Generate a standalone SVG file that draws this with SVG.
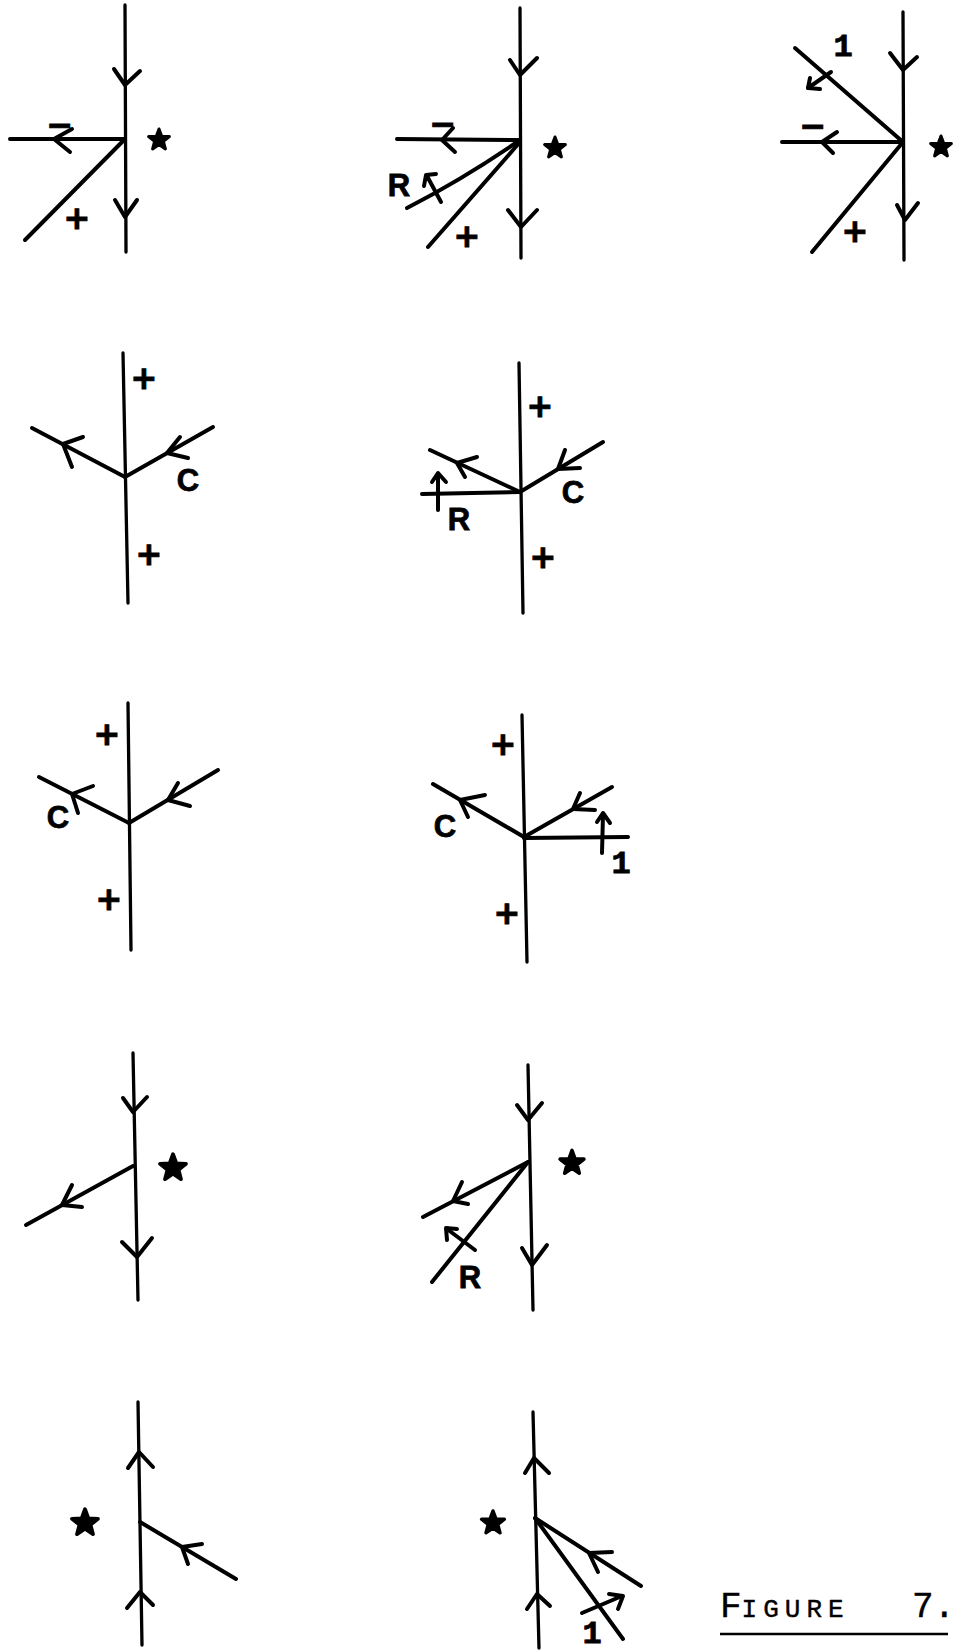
<svg xmlns="http://www.w3.org/2000/svg" xmlns:xlink="http://www.w3.org/1999/xlink" width="953" height="1651" viewBox="0 0 953 1651">
<style>
.ln{fill:none;stroke:#000;stroke-width:4;stroke-linecap:round;stroke-linejoin:round}
.vt{fill:none;stroke:#000;stroke-width:3.3;stroke-linecap:round}
.ah{fill:none;stroke:#000;stroke-width:4;stroke-linecap:round;stroke-linejoin:round}
.sg{font-family:"DejaVu Sans",sans-serif;font-weight:bold;font-size:32px;text-anchor:middle;fill:#000;stroke:#000;stroke-width:1}
.lb{font-family:"Liberation Sans",sans-serif;font-weight:bold;font-size:31px;text-anchor:middle;fill:#000;stroke:#000;stroke-width:0.8}
.one{font-family:"Liberation Mono",monospace;font-weight:bold;font-size:32px;text-anchor:middle;fill:#000;stroke:#000;stroke-width:0.8}
.st{fill:#000;stroke:#000;stroke-width:3;stroke-linejoin:round}
.cap{font-family:"Liberation Mono",monospace;fill:#000;stroke:#000;stroke-width:0.4}
</style>
<defs>
<polygon id="star" class="st" points="0,-11 2.7,-3.7 10.4,-3.4 4.4,1.4 6.4,8.9 0,4.6 -6.4,8.9 -4.4,1.4 -10.4,-3.4 -2.7,-3.7"/>
</defs>

<g id="d1">
<path class="vt" d="M125,5 L126,252"/>
<polyline class="ah" points="114,69 125,85 140,71"/>
<polyline class="ah" points="115,200 125,217 137,200"/>
<path class="ln" d="M10,139 L124,139"/>
<polyline class="ah" points="72,129 54,139 70,152"/>
<path class="ln" d="M123,141 L25,240"/>
<text class="sg" x="60" y="136">−</text>
<text class="sg" x="77" y="229">+</text>
<use xlink:href="#star" transform="translate(159,140)"/>
</g>

<g id="d2">
<path class="vt" d="M520,8 L521,258"/>
<polyline class="ah" points="510,60 520,75 537,58"/>
<polyline class="ah" points="508,210 521,227 537,210"/>
<path class="ln" d="M397,139 L520,140"/>
<polyline class="ah" points="453,128 442,140 455,152"/>
<path class="ln" d="M520,140 Q465,178 407,208"/>
<path class="ln" d="M441,202 L427,176"/>
<polyline class="ah" points="424,186 426,175 436,174"/>
<path class="ln" d="M520,142 L428,247"/>
<text class="sg" x="443" y="135">−</text>
<text class="lb" x="399" y="196" font-size="28">R</text>
<text class="sg" x="467" y="247">+</text>
<use xlink:href="#star" transform="translate(555,148)"/>
</g>

<g id="d3">
<path class="vt" d="M903,12 L904,260"/>
<polyline class="ah" points="890,53 903,70 917,57"/>
<polyline class="ah" points="897,205 905,220 918,203"/>
<path class="ln" d="M782,142 L903,142"/>
<polyline class="ah" points="837,132 822,142 833,153"/>
<path class="ln" d="M795,48 L903,142"/>
<path class="ln" d="M831,72 L808,88"/>
<polyline class="ah" points="810,78 808,88 820,89"/>
<path class="ln" d="M903,142 L812,252"/>
<text class="sg" x="813" y="137">−</text>
<text class="one" x="843" y="56">1</text>
<text class="sg" x="855" y="242">+</text>
<use xlink:href="#star" transform="translate(941,147)"/>
</g>

<g id="d4">
<path class="vt" d="M123,353 L128,603"/>
<path class="ln" d="M125,477 L32,428"/>
<polyline class="ah" points="83,437 63,444 72,467"/>
<path class="ln" d="M125,477 L213,427"/>
<polyline class="ah" points="180,437 167,453 188,458"/>
<text class="lb" x="188" y="491" font-size="36">C</text>
<text class="sg" x="144" y="389">+</text>
<text class="sg" x="149" y="565">+</text>
</g>

<g id="d5">
<path class="vt" d="M519,363 L523,613"/>
<path class="ln" d="M520,492 L430,450"/>
<polyline class="ah" points="477,457 457,463 465,477"/>
<path class="ln" d="M520,492 L422,494"/>
<path class="ln" d="M438,510 L438,474"/>
<polyline class="ah" points="432,482 438,473 446,482"/>
<text class="lb" x="459" y="530" font-size="31">R</text>
<path class="ln" d="M520,492 L603,442"/>
<polyline class="ah" points="565,450 558,469 580,468"/>
<text class="lb" x="573" y="503">C</text>
<text class="sg" x="540" y="417">+</text>
<text class="sg" x="543" y="568">+</text>
</g>

<g id="d6">
<path class="vt" d="M128,703 L131,950"/>
<path class="ln" d="M129,823 L39,777"/>
<polyline class="ah" points="93,786 72,794 78,813"/>
<text class="lb" x="58" y="828" font-size="25">C</text>
<path class="ln" d="M129,823 L218,770"/>
<polyline class="ah" points="178,783 168,800 190,806"/>
<text class="sg" x="107" y="745">+</text>
<text class="sg" x="109" y="910">+</text>
</g>

<g id="d7">
<path class="vt" d="M522,715 L527,962"/>
<path class="ln" d="M524,837 L433,784"/>
<polyline class="ah" points="485,795 460,800 468,817"/>
<text class="lb" x="445" y="837">C</text>
<path class="ln" d="M524,837 L612,787"/>
<polyline class="ah" points="580,793 573,809 595,810"/>
<path class="ln" d="M524,838 L628,837"/>
<path class="ln" d="M602,853 L603,814"/>
<polyline class="ah" points="597,822 603,813 610,823"/>
<text class="one" x="621" y="873">1</text>
<text class="sg" x="503" y="755">+</text>
<text class="sg" x="507" y="924">+</text>
</g>

<g id="d8">
<path class="vt" d="M133,1053 L138,1300"/>
<polyline class="ah" points="123,1098 133,1112 147,1097"/>
<polyline class="ah" points="122,1242 137,1257 152,1238"/>
<path class="ln" d="M133,1166 L26,1225"/>
<polyline class="ah" points="72,1185 62,1205 82,1207"/>
<use xlink:href="#star" transform="translate(173,1168) scale(1.25)"/>
</g>

<g id="d9">
<path class="vt" d="M528,1065 L533,1310"/>
<polyline class="ah" points="517,1105 528,1120 542,1103"/>
<polyline class="ah" points="522,1248 532,1265 547,1245"/>
<path class="ln" d="M528,1162 L423,1217"/>
<polyline class="ah" points="462,1182 453,1201 468,1204"/>
<path class="ln" d="M528,1162 L432,1282"/>
<path class="ln" d="M475,1250 L447,1229"/>
<polyline class="ah" points="447,1240 446,1228 457,1229"/>
<text class="lb" x="470" y="1288" font-size="33">R</text>
<use xlink:href="#star" transform="translate(572,1163) scale(1.15)"/>
</g>

<g id="d10">
<path class="vt" d="M138,1402 L142,1645"/>
<polyline class="ah" points="128,1468 139,1452 153,1467"/>
<polyline class="ah" points="127,1608 140,1592 153,1605"/>
<path class="ln" d="M140,1522 L236,1579"/>
<polyline class="ah" points="202,1544 182,1547 188,1564"/>
<use xlink:href="#star" transform="translate(85,1523) scale(1.25)"/>
</g>

<g id="d11">
<path class="vt" d="M533,1412 L539,1648"/>
<polyline class="ah" points="525,1473 534,1458 549,1473"/>
<polyline class="ah" points="527,1609 537,1594 550,1606"/>
<path class="ln" d="M535,1518 L641,1586"/>
<polyline class="ah" points="612,1552 589,1553 598,1572"/>
<path class="ln" d="M535,1518 L623,1639"/>
<path class="ln" d="M582,1613 L622,1596"/>
<polyline class="ah" points="609,1594 623,1596 618,1609"/>
<text class="one" x="592" y="1643" font-size="29">1</text>
<use xlink:href="#star" transform="translate(493,1523) scale(1.1)"/>
</g>

<g id="caption">
<text class="cap" x="720" y="1617"><tspan font-size="36">F</tspan><tspan font-size="26" letter-spacing="6">IGURE</tspan><tspan x="912" font-size="36">7.</tspan></text>
<path d="M720,1634 L948,1634" stroke="#000" stroke-width="2.5" fill="none"/>
</g>
</svg>
